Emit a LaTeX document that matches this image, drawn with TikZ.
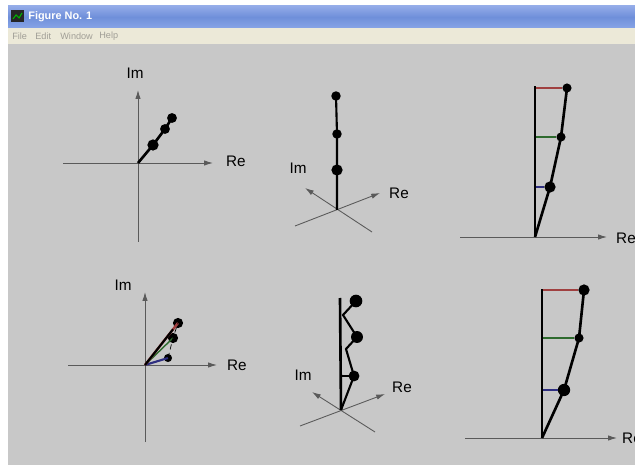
\documentclass[tikz,border=0pt]{standalone}
\usepackage{fontspec}
\setmainfont{Liberation Sans}
\usetikzlibrary{arrows.meta,calc}
\definecolor{figbg}{HTML}{C8C8C8}
\definecolor{menubg}{HTML}{ECE9D8}
\definecolor{menutxt}{HTML}{A09E96}
\definecolor{bartop}{HTML}{93ABE8}
\definecolor{barmid}{HTML}{6F8FDA}
\definecolor{barbot}{HTML}{87A4E6}
\definecolor{axgray}{HTML}{5A5A5A}
\definecolor{phred}{HTML}{A04040}
\definecolor{phgreen}{HTML}{2E6A2E}
\definecolor{phblue}{HTML}{2E2E80}

\begin{document}
\begin{tikzpicture}[x=0.02cm,y=-0.02cm,
    axis/.style={draw=axgray,line width=0.5pt},
    axarrow/.style={axis,-{Latex[length=5pt,width=3pt]}},
    phasor/.style={line width=1.5pt,black},
    dot/.style={circle,fill=black,inner sep=0pt,minimum size=#1},
    lbl/.style={font=\fontsize{8.7}{10}\selectfont},
    menu/.style={font=\fontsize{5.2}{6}\selectfont,text=menutxt,anchor=west,inner sep=0pt}]
    \clip (0,0) rectangle (635,465);
    % window frame
    \fill[white] (0,0) rectangle (635,465);
    \fill[figbg] (8,44) rectangle (635,465);
    \shade[top color=bartop,bottom color=barbot,middle color=barmid] (8,6) rectangle (635,28);
    \fill[menubg] (8,28) rectangle (635,44);
    \fill[black!85] (11,10) rectangle (24,22);
    \draw[green!70!black,line width=0.6pt] (13,19) -- (16,15) -- (19,18) -- (22,13);
    \node[font=\bfseries\fontsize{6.2}{7}\selectfont,text=white,anchor=west,inner sep=0pt] (title) at (28,17) {Figure No. 1};
    \node[menu] (mfile) at (12,36) {File};
    \node[menu] (medit) at (35,36) {Edit};
    \node[menu] (mwin) at (60,36) {Window};
    \node[menu] (mhelp) at (99,36) {Help};

    % plot 1: phasors in the plane
    \coordinate (O1) at (138,163);
    \coordinate (W1) at (63,163);  \coordinate (E1) at (213,163);
    \coordinate (S1) at (138,242); \coordinate (N1) at (138,90);
    \draw[axarrow] (W1) -- (E1);
    \draw[axarrow] (S1) -- (N1);
    \node[lbl,anchor=west] (re1) at (220,161) {Re};
    \node[lbl] (im1) at (135,73) {Im};
    \node[dot=6.4pt] (a1) at (153,145) {};
    \node[dot=5.6pt] (a2) at (165,129) {};
    \node[dot=5.6pt] (a3) at (172,118) {};
    \draw[phasor] (O1) -- (a1.center) -- (a2.center) -- (a3.center);

    % plot 2: 3d view
    \coordinate (O2) at (337,210);
    \coordinate (ReA2) at (295,226); \coordinate (ReB2) at (380,193);
    \coordinate (ImA2) at (372,232); \coordinate (ImB2) at (305,188);
    \draw[axarrow] (ReA2) -- (ReB2);
    \draw[axarrow] (ImA2) -- (ImB2);
    \node[lbl,anchor=west] (re2) at (383,193) {Re};
    \node[lbl] (im2) at (298,168) {Im};
    \node[dot=5.4pt] (b1) at (336,96) {};
    \node[dot=5.4pt] (b2) at (337,134) {};
    \node[dot=6.4pt] (b3) at (337,170) {};
    \draw[phasor,line width=1.2pt] (O2) -- (b3.center) -- (b2.center) -- (b1.center);

    % plot 3: side view
    \coordinate (O3) at (535,237); \coordinate (T3) at (535,86);
    \coordinate (W3) at (460,237); \coordinate (E3) at (607,237);
    \draw[axarrow] (W3) -- (E3);
    \node[lbl,anchor=west] (re3) at (610,238) {Re};
    \node[dot=6.4pt] (c1) at (550,187) {};
    \node[dot=5.2pt] (c2) at (561,137) {};
    \node[dot=5.2pt] (c3) at (567,88) {};
    \draw[phblue,line width=0.9pt] (O3 |- c1) -- (c1);
    \draw[phgreen,line width=0.9pt] (O3 |- c2) -- (c2);
    \draw[phred,line width=0.6pt] (O3 |- c3) -- (c3);
    \draw[phasor] (O3) -- (T3);
    \draw[phasor] (O3) -- (c1.center) -- (c2.center) -- (c3.center);

    % plot 4: phasors in the plane, summed
    \coordinate (O4) at (145,365);
    \coordinate (W4) at (68,365);  \coordinate (E4) at (217,365);
    \coordinate (S4) at (145,442); \coordinate (N4) at (145,292);
    \draw[axarrow] (W4) -- (E4);
    \draw[axarrow] (S4) -- (N4);
    \node[lbl,anchor=west] (re4) at (221,365) {Re};
    \node[lbl] (im4) at (123,285) {Im};
    \node[dot=4.6pt] (d1) at (168,358) {};
    \node[dot=5.8pt] (d2) at (173,338) {};
    \node[dot=5.8pt] (d3) at (178,323) {};
    \draw[phblue,line width=1.2pt] (O4) -- (d1.center);
    \draw[phgreen,line width=0.8pt] (O4) -- (d2.center);
    \draw[phred,line width=1.4pt] (O4) -- (d3.center);
    \draw[phasor,line width=1.2pt] (O4) -- ($(O4)!0.85!(d3.center)$);
    \draw[black,densely dashed,line width=0.4pt] (d1.center) -- (d2.center) -- (d3.center);

    % plot 5: 3d view, summed
    \coordinate (O5) at (341,410); \coordinate (T5) at (340,298);
    \coordinate (ReA5) at (300,426); \coordinate (ReB5) at (385,394);
    \coordinate (ImA5) at (375,432); \coordinate (ImB5) at (312,392);
    \draw[axarrow] (ReA5) -- (ReB5);
    \draw[axarrow] (ImA5) -- (ImB5);
    \node[lbl,anchor=west] (re5) at (386,387) {Re};
    \node[lbl] (im5) at (303,375) {Im};
    \node[dot=6.2pt] (e1) at (354,376) {};
    \node[dot=6.8pt] (e2) at (357,337) {};
    \node[dot=7.2pt] (e3) at (356,301) {};
    \coordinate (h1) at (346,349);
    \coordinate (h2) at (343,315);
    \draw[phasor] (O5) -- (T5);
    \draw[phasor,line width=1.2pt] (O5) -- (e1.center) -- (h1) -- (e2.center) -- (h2) -- (e3.center);
    \draw[phasor,line width=0.9pt] (O5 |- e1) -- (e1.center);

    % plot 6: side view, summed
    \coordinate (O6) at (542,438); \coordinate (T6) at (542,289);
    \coordinate (W6) at (465,438); \coordinate (E6) at (617,438);
    \draw[axarrow] (W6) -- (E6);
    \node[lbl,anchor=west] (re6) at (616,438) {Re};
    \node[dot=7pt] (f1) at (564,390) {};
    \node[dot=5.2pt] (f2) at (579,338) {};
    \node[dot=6.4pt] (f3) at (584,290) {};
    \draw[phblue,line width=0.9pt] (O6 |- f1) -- (f1);
    \draw[phgreen,line width=0.9pt] (O6 |- f2) -- (f2);
    \draw[phred,line width=1.2pt] (O6 |- f3) -- (f3);
    \draw[phasor] (O6) -- (T6);
    \draw[phasor] (O6) -- (f1.center) -- (f2.center) -- (f3.center);
\end{tikzpicture}
\end{document}
